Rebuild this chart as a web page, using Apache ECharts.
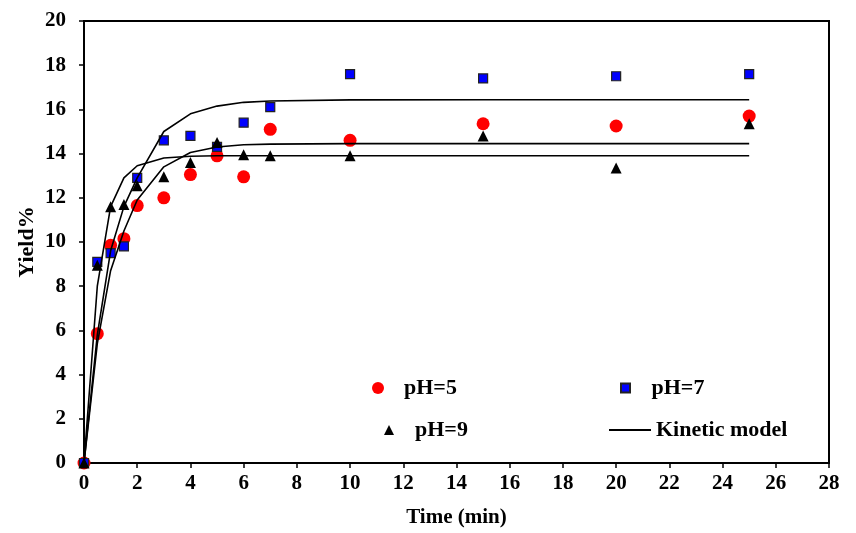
<!DOCTYPE html>
<html>
<head>
	<meta charset="utf-8" />
	<title>Yield vs time</title>
	<script src="https://cdn.jsdelivr.net/npm/echarts@6/dist/echarts.min.js"></script>
	<style>
		html, body { margin: 0; padding: 0; background: #fff; }
		#chart { width: 856px; height: 533px; }
	</style>
</head>
<body>
	<div id="chart"></div>
	<script type="text/javascript">
		// sampling times (min)
		var times = [0, 0.5, 1, 1.5, 2, 3, 4, 5, 6, 7, 10, 15, 20, 25];

		// measured yield %
		var ph5 = [0, 5.85, 9.85, 10.15, 11.65, 12.0, 13.05, 13.9, 12.95, 15.1, 14.6, 15.35, 15.25, 15.7];
		var ph7 = [0, 9.1, 9.5, 9.8, 12.9, 14.6, 14.8, 14.3, 15.4, 16.1, 17.6, 17.4, 17.5, 17.6];
		var ph9 = [0, 8.95, 11.6, 11.7, 12.55, 12.95, 13.6, 14.5, 13.95, 13.9, 13.9, 14.8, 13.35, 15.35];

		// kinetic model curves
		var model5 = [0, 5.4, 8.7, 10.5, 11.9, 13.4, 14.05, 14.3, 14.4, 14.43, 14.45, 14.45, 14.45, 14.45];
		var model7 = [0, 5.8, 9.6, 11.6, 12.9, 15.0, 15.8, 16.15, 16.32, 16.38, 16.43, 16.44, 16.44, 16.44];
		var model9 = [0, 8.0, 11.6, 12.9, 13.45, 13.8, 13.88, 13.9, 13.9, 13.9, 13.9, 13.9, 13.9, 13.9];

		function pairs(ys) {
			return times.map(function(t, i) { return [t, ys[i]]; });
		}

		var font = 'Liberation Serif';
		var squareIcon = 'path://M0,0L10,0L10,10L0,10Z';
		var triangleIcon = 'path://M5,0L10,10L0,10Z';
		var myChart = echarts.init(document.getElementById('chart'));

		// one legend per entry so each can sit where the original has it
		function legendAt(item, left, top, h) {
			return {
				data: [item],
				left: left,
				top: top,
				itemWidth: 42,
				itemHeight: h,
				selectedMode: false,
				textStyle: { fontFamily: font, fontWeight: 'bold', fontSize: 22, color: '#000' }
			};
		}

		var lineStyle = { color: '#000', width: 1.6 };

		var option = {
			animation: false,
			backgroundColor: '#fff',
			grid: {
				left: 84, right: 27, top: 21, bottom: 68,
				show: true, borderColor: '#000', borderWidth: 2
			},
			legend: [
				legendAt({ name: 'pH=5', icon: 'circle' }, 367, 372, 12),
				legendAt({ name: 'pH=7', icon: squareIcon }, 615, 372, 9),
				legendAt({ name: 'pH=9', icon: triangleIcon }, 379, 414, 10),
				legendAt({ name: 'Kinetic model', icon: 'rect' }, 604, 414, 2)
			],
			xAxis: {
				type: 'value',
				min: 0, max: 28, interval: 2,
				name: 'Time (min)',
				nameLocation: 'middle',
				nameGap: 44,
				nameTextStyle: { fontFamily: font, fontWeight: 'bold', fontSize: 21, color: '#000' },
				axisLine: { lineStyle: { color: '#000', width: 2 } },
				axisTick: { length: 5, lineStyle: { color: '#000', width: 1.5 } },
				axisLabel: { margin: 10, fontFamily: font, fontWeight: 'bold', fontSize: 21, color: '#000' },
				splitLine: { show: false }
			},
			yAxis: {
				type: 'value',
				min: 0, max: 20, interval: 2,
				name: 'Yield%',
				nameLocation: 'middle',
				nameRotate: 90,
				nameGap: 46,
				nameMoveOverlap: false,
				nameTextStyle: { fontFamily: font, fontWeight: 'bold', fontSize: 22, color: '#000' },
				axisLine: { lineStyle: { color: '#000', width: 2 } },
				axisTick: { length: 5, lineStyle: { color: '#000', width: 1.5 } },
				axisLabel: { margin: 18, fontFamily: font, fontWeight: 'bold', fontSize: 21, color: '#000' },
				splitLine: { show: false }
			},
			series: [
				{
					name: 'pH=5', type: 'scatter', data: pairs(ph5),
					symbol: 'circle', symbolSize: 13,
					itemStyle: { color: '#ff0000', opacity: 1 }, z: 2
				},
				{
					name: 'pH=7', type: 'scatter', data: pairs(ph7),
					symbol: 'rect', symbolSize: 9,
					itemStyle: { color: '#0000ff', borderColor: '#222', borderWidth: 1.2, opacity: 1 }, z: 3
				},
				{
					name: 'pH=9', type: 'scatter', data: pairs(ph9),
					symbol: 'triangle', symbolSize: 11,
					itemStyle: { color: '#000', opacity: 1 }, z: 4
				},
				{
					name: 'Kinetic model', type: 'line', data: pairs(model5),
					symbol: 'none', lineStyle: lineStyle, itemStyle: { color: '#000' }, z: 5
				},
				{
					name: 'Kinetic model', type: 'line', data: pairs(model7),
					symbol: 'none', lineStyle: lineStyle, itemStyle: { color: '#000' }, z: 5
				},
				{
					name: 'Kinetic model', type: 'line', data: pairs(model9),
					symbol: 'none', lineStyle: lineStyle, itemStyle: { color: '#000' }, z: 5
				}
			]
		};

		myChart.setOption(option);
	</script>
</body>
</html>
